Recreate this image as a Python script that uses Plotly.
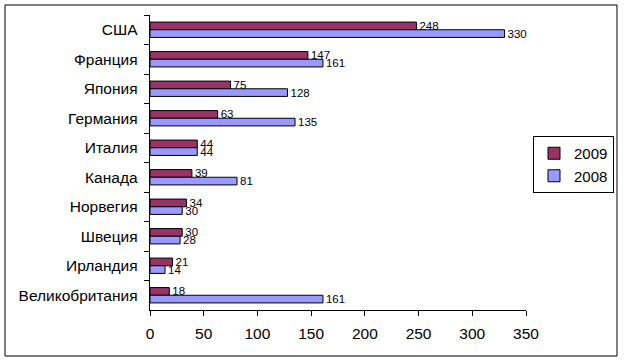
import plotly.graph_objects as go

countries = ["США", "Франция", "Япония", "Германия", "Италия", "Канада",
             "Норвегия", "Швеция", "Ирландия", "Великобритания"]
values_2009 = [248, 147, 75, 63, 44, 39, 34, 30, 21, 18]
values_2008 = [330, 161, 128, 135, 44, 81, 30, 28, 14, 161]
x_ticks = [0, 50, 100, 150, 200, 250, 300, 350]

W, H = 624, 361
L, R, T, B = 150, 98, 15, 51
pw, ph = W - L - R, H - T - B

def px_x(x):
    return (x - L) / pw

def px_y(y):
    return (H - B - y) / ph

FONT = "Liberation Sans, Arial, sans-serif"
label_font = dict(color="black", size=11.5, family=FONT)

fig = go.Figure()
fig.add_trace(go.Bar(
    y=countries, x=values_2009, name="2009", orientation="h",
    marker=dict(color="#993366", line=dict(color="black", width=1)),
    text=values_2009, textposition="outside", constraintext="none",
    textfont=label_font, outsidetextfont=label_font, cliponaxis=False,
))
fig.add_trace(go.Bar(
    y=countries, x=values_2008, name="2008", orientation="h",
    marker=dict(color="#9999FF", line=dict(color="black", width=1)),
    text=values_2008, textposition="outside", constraintext="none",
    textfont=label_font, outsidetextfont=label_font, cliponaxis=False,
))

fig.update_layout(
    width=W, height=H,
    margin=dict(l=L, r=R, t=T, b=B, autoexpand=False),
    paper_bgcolor="white", plot_bgcolor="white",
    barmode="group", bargap=0.48, bargroupgap=0,
    font=dict(family=FONT, size=13, color="black"),
    showlegend=True,
    legend=dict(
        x=px_x(614), y=px_y(136), xanchor="right", yanchor="top",
        bordercolor="black", borderwidth=1, bgcolor="white",
        font=dict(size=15), traceorder="normal",
        itemwidth=30, tracegroupgap=0,
    ),
    xaxis=dict(
        range=[0, 350], tickvals=x_ticks, showgrid=False, zeroline=False,
        showline=True, linecolor="black", linewidth=1,
        ticks="outside", ticklen=5, tickcolor="black", ticklabelstandoff=4,
        tickfont=dict(size=15.5), fixedrange=True, automargin=False,
    ),
    yaxis=dict(
        autorange="reversed", showgrid=False, zeroline=False,
        showline=True, linecolor="black", linewidth=1,
        ticks="outside", ticklen=5, tickcolor="black", tickson="boundaries",
        tickfont=dict(size=15.5), ticksuffix=" ", ticklabelstandoff=4,
        fixedrange=True, automargin=False,
    ),
    shapes=[dict(
        type="rect", xref="paper", yref="paper",
        x0=px_x(5), x1=px_x(617), y0=px_y(356), y1=px_y(5),
        line=dict(color="black", width=1), fillcolor="rgba(0,0,0,0)",
        layer="below",
    )],
)

fig.write_html("out.html", config={"displayModeBar": False},
               post_script="document.body.style.margin='0';")
